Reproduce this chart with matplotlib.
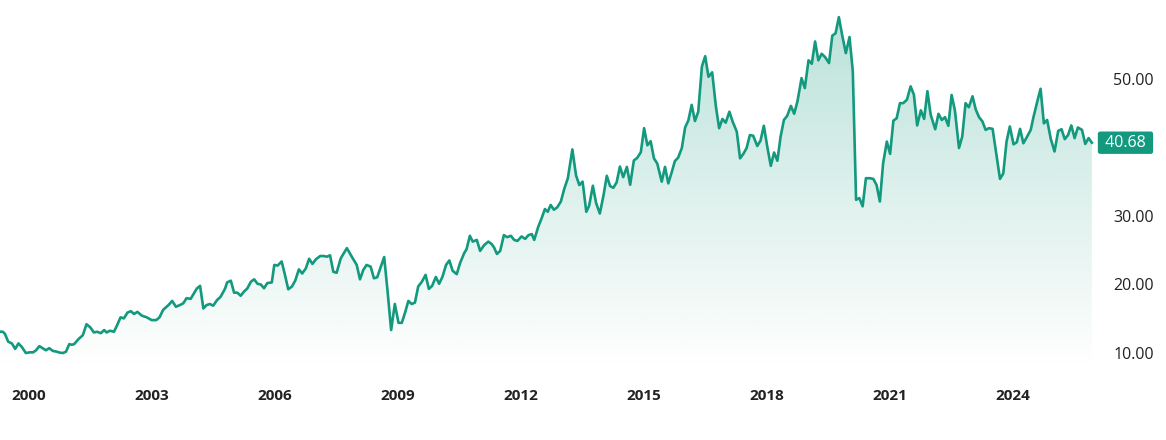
import numpy as np
import matplotlib
matplotlib.use("Agg")
import matplotlib.pyplot as plt
from matplotlib.transforms import blended_transform_factory

plt.rcParams['font.family'] = ['Open Sans', 'DejaVu Sans']

# monthly closing price (decimal year, price)
dates = [
    1999.29, 1999.36, 1999.41, 1999.49, 1999.58, 1999.66, 1999.74, 1999.82, 1999.92,
    2000.02, 2000.10, 2000.17, 2000.25, 2000.33, 2000.41, 2000.49, 2000.58, 2000.67, 2000.75, 2000.83, 2000.90, 2000.98,
    2001.04, 2001.10, 2001.20, 2001.31, 2001.40, 2001.49, 2001.58, 2001.66, 2001.75, 2001.83, 2001.89, 2001.97,
    2002.07, 2002.15, 2002.23, 2002.31, 2002.40, 2002.48, 2002.56, 2002.64, 2002.75, 2002.87, 2002.99,
    2003.10, 2003.18, 2003.27, 2003.40, 2003.49, 2003.58, 2003.68, 2003.76, 2003.84, 2003.94,
    2004.09, 2004.17, 2004.25, 2004.33, 2004.41, 2004.49, 2004.58, 2004.67, 2004.78, 2004.83, 2004.92,
    2005.00, 2005.08, 2005.16, 2005.24, 2005.32, 2005.41, 2005.49, 2005.57, 2005.65, 2005.73, 2005.81, 2005.92, 2005.98,
    2006.06, 2006.16, 2006.24, 2006.32, 2006.41, 2006.49, 2006.58, 2006.66, 2006.75, 2006.83, 2006.91,
    2007.00, 2007.10, 2007.18, 2007.26, 2007.34, 2007.42, 2007.50, 2007.60, 2007.75, 2007.87, 2007.99,
    2008.07, 2008.15, 2008.23, 2008.33, 2008.41, 2008.49, 2008.66, 2008.74, 2008.83, 2008.92,
    2009.01, 2009.09, 2009.17, 2009.25, 2009.33, 2009.41, 2009.49, 2009.58, 2009.67, 2009.75, 2009.83, 2009.92,
    2010.00, 2010.08, 2010.17, 2010.25, 2010.33, 2010.43, 2010.51, 2010.61, 2010.67, 2010.75, 2010.82, 2010.92,
    2011.00, 2011.10, 2011.20, 2011.28, 2011.34, 2011.41, 2011.49, 2011.58, 2011.66, 2011.75, 2011.83, 2011.91,
    2012.01, 2012.10, 2012.18, 2012.26, 2012.32, 2012.42, 2012.50, 2012.58, 2012.65, 2012.72, 2012.80, 2012.88, 2012.97,
    2013.05, 2013.14, 2013.25, 2013.34, 2013.42, 2013.50, 2013.59, 2013.66, 2013.75, 2013.83, 2013.92,
    2014.01, 2014.09, 2014.17, 2014.25, 2014.33, 2014.41, 2014.49, 2014.58, 2014.66, 2014.75, 2014.83, 2014.92,
    2015.00, 2015.08, 2015.16, 2015.24, 2015.32, 2015.43, 2015.51, 2015.59, 2015.67, 2015.75, 2015.83, 2015.92,
    2016.00, 2016.08, 2016.16, 2016.24, 2016.32, 2016.41, 2016.49, 2016.57, 2016.66, 2016.75, 2016.83, 2016.91, 2016.99,
    2017.08, 2017.16, 2017.26, 2017.34, 2017.42, 2017.50, 2017.58, 2017.66, 2017.76, 2017.84, 2017.92,
    2018.01, 2018.09, 2018.17, 2018.25, 2018.33, 2018.41, 2018.49, 2018.58, 2018.66, 2018.74, 2018.84, 2018.92,
    2019.01, 2019.09, 2019.17, 2019.25, 2019.33, 2019.41, 2019.51, 2019.59, 2019.67, 2019.75, 2019.83, 2019.92,
    2020.01, 2020.09, 2020.17, 2020.25, 2020.33, 2020.41, 2020.51, 2020.59, 2020.67, 2020.75, 2020.83, 2020.92,
    2021.00, 2021.08, 2021.16, 2021.24, 2021.32, 2021.41, 2021.50, 2021.58, 2021.66, 2021.75, 2021.83, 2021.91, 2021.99,
    2022.10, 2022.18, 2022.26, 2022.34, 2022.42, 2022.50, 2022.58, 2022.68, 2022.76, 2022.84, 2022.92,
    2023.01, 2023.09, 2023.17, 2023.25, 2023.33, 2023.41, 2023.50, 2023.60, 2023.68, 2023.76, 2023.84, 2023.92,
    2024.01, 2024.09, 2024.17, 2024.25, 2024.33, 2024.43, 2024.49, 2024.59, 2024.67, 2024.75, 2024.83, 2024.92,
    2025.01, 2025.10, 2025.18, 2025.26, 2025.34, 2025.42, 2025.50, 2025.58, 2025.68, 2025.76, 2025.84, 2025.92,
]
prices = [
    13.1, 13.1, 12.8, 11.65, 11.4, 10.6, 11.4, 10.9, 10.0,
    10.1, 10.1, 10.4, 11.0, 10.7, 10.4, 10.7, 10.3, 10.2, 10.05, 10.0, 10.2, 11.3,
    11.2, 11.3, 12.0, 12.6, 14.2, 13.75, 13.0, 13.1, 12.9, 13.35, 13.0, 13.25,
    13.1, 14.1, 15.2, 15.05, 15.9, 16.1, 15.7, 16.0, 15.45, 15.2, 14.8,
    14.8, 15.2, 16.3, 17.0, 17.6, 16.75, 17.0, 17.25, 18.0, 17.9,
    19.4, 19.8, 16.5, 17.0, 17.15, 16.9, 17.7, 18.2, 19.4, 20.3, 20.55,
    18.8, 18.8, 18.35, 18.95, 19.4, 20.4, 20.75, 20.1, 20.0, 19.45, 20.2, 20.3, 22.85,
    22.75, 23.35, 21.4, 19.3, 19.7, 20.55, 22.2, 21.6, 22.35, 23.75, 23.0,
    23.7, 24.15, 24.15, 24.05, 24.25, 21.85, 21.7, 23.8, 25.3, 24.05, 22.85,
    20.75, 22.1, 22.85, 22.6, 20.9, 21.05, 24.0, 19.2, 13.35, 17.15,
    14.4, 14.4, 15.9, 17.6, 17.15, 17.35, 19.7, 20.4, 21.4, 19.35, 19.8, 21.1,
    20.1, 21.1, 22.85, 23.5, 22.0, 21.5, 23.1, 24.55, 25.15, 27.1, 26.25, 26.5,
    24.9, 25.75, 26.25, 25.9, 25.4, 24.45, 24.9, 27.2, 26.9, 27.1, 26.5, 26.35,
    27.0, 26.65, 27.2, 27.35, 26.5, 28.45, 29.65, 31.0, 30.6, 31.6, 30.9, 31.25, 32.1,
    33.9, 35.5, 39.7, 35.9, 34.5, 35.0, 30.6, 31.5, 34.4, 31.85, 30.35,
    33.0, 35.85, 34.35, 34.1, 34.9, 37.2, 35.65, 37.15, 34.55, 38.1, 38.45, 39.3,
    42.8, 40.3, 40.9, 38.4, 37.65, 35.0, 37.15, 34.75, 36.3, 38.0, 38.5, 39.9,
    42.9, 43.95, 46.2, 43.85, 45.2, 51.8, 53.3, 50.3, 50.95, 46.0, 42.8, 44.15, 43.6,
    45.2, 43.75, 42.3, 38.4, 39.05, 39.9, 41.8, 41.7, 40.2, 41.0, 43.15,
    39.9, 37.3, 39.25, 38.05, 41.6, 44.0, 44.6, 46.05, 44.9, 46.7, 50.1, 48.65,
    52.7, 52.2, 55.45, 52.7, 53.65, 53.2, 52.3, 56.3, 56.65, 59.0, 56.4, 53.75,
    56.1, 51.1, 32.35, 32.6, 31.4, 35.5, 35.5, 35.4, 34.5, 32.1, 37.7, 40.85,
    39.05, 43.9, 44.25, 46.45, 46.45, 46.95, 48.9, 47.7, 43.2, 45.4, 44.15, 48.2, 44.75,
    42.65, 44.9, 44.0, 44.4, 43.15, 47.65, 45.4, 39.9, 41.6, 46.45, 45.85,
    47.45, 45.5, 44.4, 43.8, 42.55, 42.8, 42.7, 38.65, 35.4, 36.2, 40.85, 43.05,
    40.45, 40.75, 42.7, 40.6, 41.45, 42.55, 44.25, 46.7, 48.55, 43.5, 44.0, 41.2,
    39.4, 42.4, 42.65, 41.2, 41.8, 43.2, 41.35, 42.9, 42.55, 40.5, 41.35, 40.68,
]
last_price = 40.68
ytick_vals = [10, 20, 30, 50]
xtick_years = [2000, 2003, 2006, 2009, 2012, 2015, 2018, 2021, 2024]

teal = "#12997e"
x = np.array(dates)
y = np.array(prices)

fig = plt.figure(figsize=(11.66, 4.40), dpi=100)
ax = fig.add_axes([0, 70 / 440, 1095 / 1166, 370 / 440])
ymin, ymax = 7.52, 61.5
xmin, xmax = 1999.29, 1999.29 + 1095 / 41
ax.set_xlim(xmin, xmax)
ax.set_ylim(ymin, ymax)

# gradient under the line
grad = np.zeros((256, 1, 4))
grad[:, 0, 0:3] = matplotlib.colors.to_rgb(teal)
grad[:, 0, 3] = np.linspace(0.30, 0.0, 256)
im = ax.imshow(grad, extent=[xmin, xmax, ymin, ymax], aspect="auto",
               origin="upper", zorder=1)
poly = ax.fill_between(x, y, ymin, facecolor="none", edgecolor="none")
im.set_clip_path(poly.get_paths()[0], transform=ax.transData)

ax.plot(x, y, color=teal, lw=1.9, solid_joinstyle="round", zorder=3)

for s in ax.spines.values():
    s.set_visible(False)

ax.yaxis.tick_right()
ax.set_yticks(ytick_vals)
ax.set_yticklabels([f"{v:.2f}" for v in ytick_vals], fontsize=11.5, color="#222222")
ax.tick_params(axis="y", length=0, pad=13)
ax.set_xticks(xtick_years)
ax.set_xticklabels([str(v) for v in xtick_years], fontsize=11,
                   fontweight="bold", color="#222222")
ax.tick_params(axis="x", length=0, pad=14)

trans = blended_transform_factory(ax.transAxes, ax.transData)
ax.text(1.0055, last_price, f" {last_price:.2f} ", transform=trans,
        ha="left", va="center", fontsize=11.5, color="white",
        bbox=dict(boxstyle="round,pad=0.2,rounding_size=0.15",
                  facecolor=teal, edgecolor="none"),
        clip_on=False, zorder=5)

fig.savefig("out.png", dpi=100)
